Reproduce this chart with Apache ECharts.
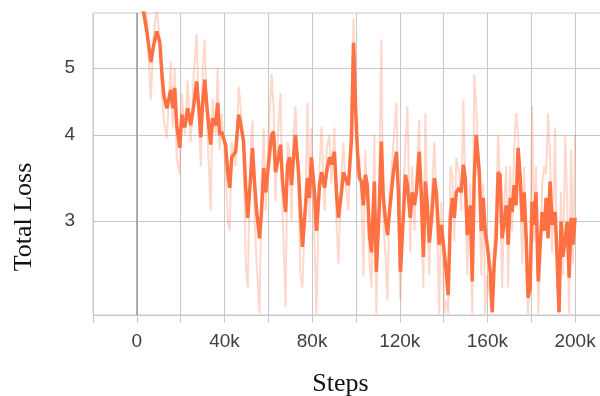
<!DOCTYPE html>
<html>
<head>
<meta charset="utf-8">
<script src="https://cdn.jsdelivr.net/npm/echarts@6/dist/echarts.min.js"></script>
<style>
  html, body { margin: 0; padding: 0; background: #fff; }
  #container { width: 600px; height: 396px; }
</style>
</head>
<body>
<div id="container"></div>
<script>
// steps in thousands
const stepsK = [
    0, 1.8, 3.2, 4.6, 6.4, 7.7, 9.1, 10.5, 11.4, 12.3, 13.7, 15.5, 16.4, 17.3, 18.2, 19.6,
    20.5, 21.9, 23.2, 24.6, 26.0, 27.3, 28.2, 29.2, 30.1, 31.0, 31.9, 33.7, 34.6, 36.0, 36.9, 37.8,
    38.7, 40.5, 41.5, 42.4, 43.3, 45.1, 46.5, 47.8, 48.7, 49.7, 50.6, 51.9, 52.8, 53.8, 54.7, 56.0,
    56.9, 57.9, 58.8, 60.1, 61.5, 62.4, 63.3, 64.2, 65.6, 66.5, 67.9, 68.8, 69.7, 70.6, 71.5, 72.4,
    73.8, 74.7, 75.6, 77.0, 77.9, 78.8, 79.7, 81.1, 82.0, 83.4, 84.3, 85.7, 86.6, 87.9, 88.8, 90.2,
    91.1, 92.0, 93.4, 94.3, 95.2, 96.6, 98.0, 98.9, 99.8, 100.7, 101.6, 102.5, 103.4, 104.3, 105.2, 106.2,
    107.1, 108.4, 109.3, 110.7, 111.6, 112.5, 113.4, 114.4, 115.3, 116.2, 117.1, 118.5, 119.4, 120.3, 121.2, 122.6,
    123.5, 124.8, 125.7, 126.7, 127.6, 128.9, 129.8, 130.8, 131.7, 132.6, 133.5, 134.4, 135.8, 136.7, 138.0, 139.0,
    140.3, 141.2, 142.1, 143.1, 144.0, 144.9, 145.8, 147.2, 148.1, 149.0, 149.9, 150.8, 152.2, 153.1, 154.0, 154.9,
    156.3, 157.2, 158.1, 159.0, 159.9, 161.3, 162.2, 163.1, 164.0, 164.9, 165.8, 166.7, 167.7, 168.6, 169.5, 170.4,
    171.3, 172.2, 173.1, 174.0, 175.0, 175.9, 176.8, 177.7, 178.6, 179.5, 180.4, 181.3, 182.2, 183.2, 184.1, 185.0,
    185.9, 186.8, 187.7, 188.6, 189.5, 190.9, 191.8, 192.7, 193.6, 194.5, 195.5, 196.4, 197.3, 198.2, 199.1, 200.0
];
const smoothLoss = [
    7.2, 6.3, 6.0, 5.64, 5.1, 5.4, 5.65, 5.45, 4.93, 4.57, 4.37, 4.65, 4.37, 4.68, 4.13, 3.83,
    4.28, 4.1, 4.37, 4.13, 4.42, 4.78, 4.42, 3.97, 4.47, 4.81, 4.42, 3.87, 4.23, 4.13, 4.45, 4.0,
    4.04, 3.87, 3.53, 3.35, 3.71, 3.78, 4.28, 4.08, 3.91, 3.35, 3.03, 3.46, 3.83, 3.38, 3.09, 2.83,
    3.09, 3.58, 3.30, 3.62, 4.0, 4.04, 3.53, 3.65, 3.87, 3.42, 3.09, 3.62, 3.71, 3.38, 3.71, 4.0,
    3.53, 3.09, 2.75, 3.16, 3.46, 3.24, 3.71, 3.30, 2.9, 3.38, 3.53, 3.35, 3.53, 3.71, 3.62, 3.78,
    3.30, 3.03, 3.30, 3.53, 3.46, 3.38, 3.96, 5.44, 4.42, 3.78, 3.46, 3.42, 3.16, 3.5, 3.38, 2.86,
    2.7, 3.42, 2.53, 3.16, 3.91, 3.24, 3.03, 2.86, 3.09, 3.30, 3.53, 3.78, 3.30, 2.53, 2.86, 3.5,
    3.38, 3.03, 3.30, 3.16, 3.30, 3.78, 3.30, 2.66, 3.42, 3.16, 2.79, 2.99, 3.46, 3.30, 2.77, 2.96,
    2.7, 2.53, 2.34, 3.03, 3.24, 3.03, 3.30, 3.35, 3.3, 3.62, 3.46, 2.86, 3.16, 2.45, 3.46, 4.0,
    3.53, 2.9, 3.24, 2.9, 2.77, 2.53, 2.21, 2.6, 2.83, 3.53, 3.5, 2.83, 2.99, 3.16, 2.77, 3.24,
    3.09, 3.38, 3.16, 3.83, 3.46, 2.99, 3.30, 2.83, 2.32, 2.4, 3.2, 2.96, 3.30, 2.45, 2.77, 3.09,
    2.9, 3.24, 2.83, 3.42, 2.96, 3.09, 2.66, 2.21, 2.99, 2.66, 2.83, 2.99, 2.48, 3.03, 2.77, 3.03
];
const rawLoss = [
    7.6, 6.8, 6.4, 5.9, 4.5, 5.6, 6.1, 5.5, 4.6, 4.2, 3.95, 5.1, 4.1, 5.0, 3.7, 3.5,
    4.6, 4.0, 4.8, 3.9, 4.9, 5.6, 4.3, 3.6, 5.0, 5.5, 4.3, 3.1, 4.5, 4.0, 5.0, 3.8,
    4.3, 3.6, 3.0, 2.9, 3.9, 3.6, 4.7, 4.2, 3.8, 2.6, 2.4, 3.8, 4.2, 3.0, 2.6, 2.2,
    3.3, 4.1, 3.1, 4.0, 4.9, 4.4, 3.2, 3.9, 4.6, 3.1, 2.25, 3.9, 3.8, 3.0, 4.0, 4.4,
    3.3, 2.5, 2.4, 3.3, 4.45, 3.0, 4.1, 2.8, 2.2, 3.6, 4.1, 3.1, 3.8, 4.0, 3.4, 4.1,
    3.0, 2.6, 3.5, 3.9, 3.4, 3.1, 4.6, 5.9, 4.8, 3.5, 3.7, 3.2, 2.5, 3.8, 3.2, 2.6,
    2.4, 4.0, 2.2, 3.6, 5.5, 3.0, 2.7, 2.3, 3.3, 3.5, 3.9, 4.45, 3.0, 2.3, 3.0, 3.9,
    4.4, 2.7, 3.6, 2.9, 3.5, 4.2, 3.0, 2.4, 4.3, 3.0, 2.5, 3.2, 3.9, 3.2, 2.2, 3.2,
    2.2, 2.3, 2.2, 3.6, 3.5, 2.8, 3.7, 3.5, 3.1, 4.5, 3.4, 2.5, 3.4, 2.2, 4.9, 4.4,
    3.3, 2.5, 3.4, 2.2, 2.5, 2.3, 2.2, 2.8, 3.1, 4.0, 3.3, 2.4, 3.2, 3.6, 2.4, 3.6,
    2.9, 3.8, 4.3, 4.0, 3.2, 2.6, 3.6, 2.5, 2.2, 2.6, 4.4, 2.8, 3.6, 2.2, 2.6, 3.4,
    3.6, 3.5, 4.3, 3.7, 2.7, 4.1, 2.4, 2.2, 3.3, 2.5, 4.0, 3.2, 2.2, 3.8, 2.6, 4.0
];
const yTicks = [3, 4, 5];

const dom = document.getElementById('container');
const myChart = echarts.init(dom, null, { renderer: 'canvas' });

const rawData = stepsK.map((k, i) => [k * 1000, rawLoss[i]]);
const smoothData = stepsK.map((k, i) => [k * 1000, smoothLoss[i]]);

const gridColor = '#c8c8c8';

myChart.setOption({
    animation: false,
    grid: {
        left: 93, right: -2, top: 13, bottom: 81,
        outerBoundsMode: 'none',
        show: true, borderColor: gridColor, borderWidth: 1
    },
    xAxis: {
        type: 'value',
        min: -20000,
        max: 212300,
        interval: 20000,
        name: 'Steps',
        nameLocation: 'middle',
        nameGap: 56,
        nameTextStyle: {
            fontFamily: 'Liberation Serif', fontSize: 26, color: '#111',
            padding: [0, 14, 0, 0]
        },
        axisLine: { show: true, lineStyle: { color: gridColor } },
        axisTick: { show: true, length: 8, lineStyle: { color: gridColor } },
        splitLine: { show: true, lineStyle: { color: gridColor } },
        axisLabel: {
            margin: 17,
            fontFamily: 'Liberation Sans', fontSize: 19, color: '#404040',
            formatter: function (v) {
                if (v % 40000 !== 0 || v < 0) return '';
                return v === 0 ? '0' : (v / 1000) + 'k';
            }
        }
    },
    yAxis: {
        type: 'log',
        min: 2.19,
        max: 6.01,
        name: 'Total Loss',
        nameLocation: 'middle',
        nameGap: 56,
        nameTextStyle: {
            fontFamily: 'Liberation Serif', fontSize: 26, color: '#111',
            padding: [0, 106, 0, 0]
        },
        axisLine: { show: true, lineStyle: { color: gridColor } },
        axisTick: { show: true, length: 8, customValues: yTicks, lineStyle: { color: gridColor } },
        splitLine: { show: true, lineStyle: { color: gridColor } },
        axisLabel: {
            customValues: yTicks,
            margin: 18,
            fontFamily: 'Liberation Sans', fontSize: 19, color: '#404040'
        }
    },
    series: [
        {
            name: 'raw',
            type: 'line',
            data: rawData,
            showSymbol: false,
            lineStyle: { color: '#ff7043', width: 2, opacity: 0.28 },
            markLine: {
                silent: true,
                symbol: 'none',
                label: { show: false },
                lineStyle: { color: '#999', width: 1.5, type: 'solid' },
                data: [{ xAxis: 0 }]
            }
        },
        {
            name: 'smoothed',
            type: 'line',
            data: smoothData,
            showSymbol: false,
            lineStyle: { color: '#ff7043', width: 3.5 }
        }
    ]
});
</script>
</body>
</html>
